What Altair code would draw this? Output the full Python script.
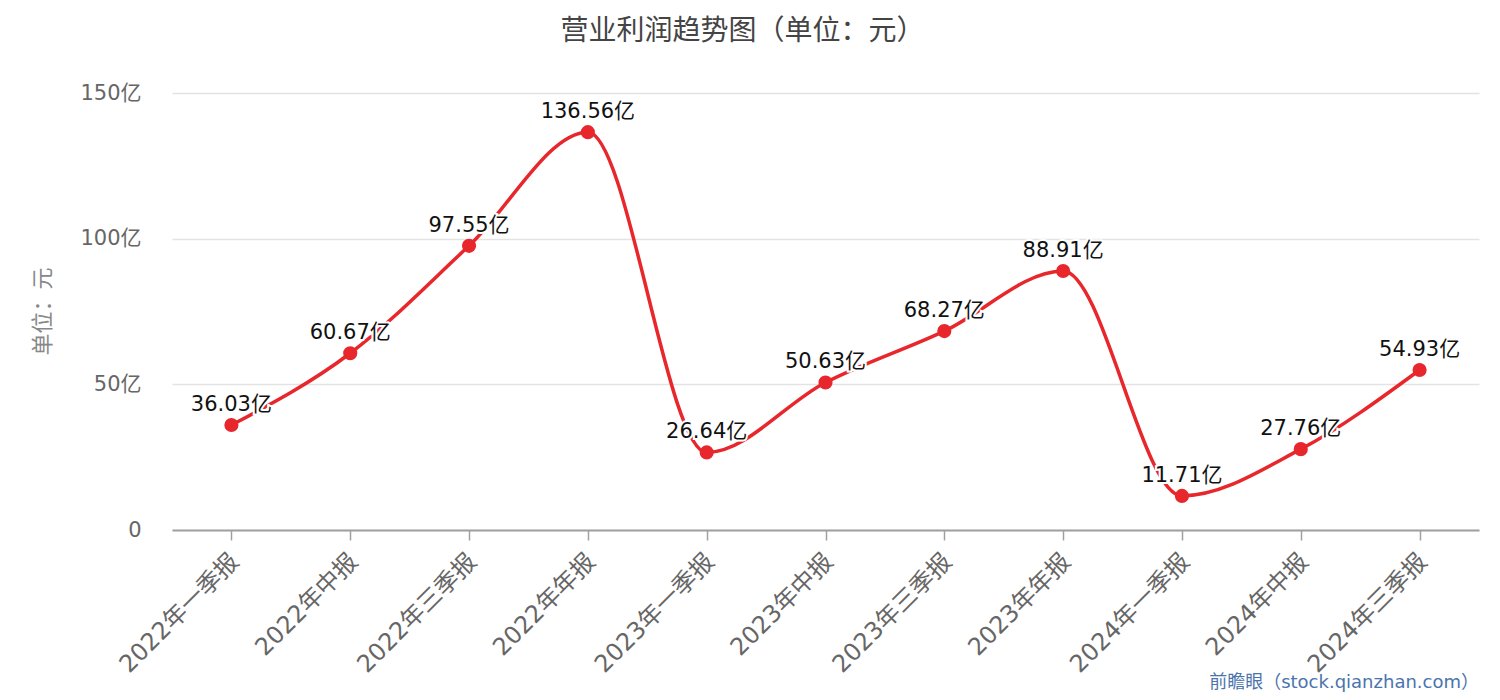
import altair as alt
import pandas as pd

categories = ["2022年一季报", "2022年中报", "2022年三季报", "2022年年报",
              "2023年一季报", "2023年中报", "2023年三季报", "2023年年报",
              "2024年一季报", "2024年中报", "2024年三季报"]
values = [36.03, 60.67, 97.55, 136.56, 26.64, 50.63, 68.27, 88.91, 11.71, 27.76, 54.93]
title_text = "营业利润趋势图（单位：元）"
y_title = "单位：元"
credit = "前瞻眼（stock.qianzhan.com）"

FONT = "DejaVu Sans, Noto Sans CJK SC"
RED = "#e8272d"

df = pd.DataFrame({"cat": categories, "val": values})
df["label"] = df["val"].map(lambda v: f"{v:.2f}亿")

x_enc = alt.X("cat:N", sort=categories,
              scale=alt.Scale(type="point", padding=0.5),
              axis=alt.Axis(title=None, labelAngle=-45, labelFontSize=24,
                            labelColor="#666666", labelFont=FONT,
                            domainColor="#a0a0a0", domainWidth=2,
                            tickColor="#a0a0a0", tickSize=10, tickWidth=1.5,
                            labelPadding=9, labelOffset=-5, grid=False, labelOverlap=False))
x_plain = alt.X("cat:N", sort=categories)
y_enc = alt.Y("val:Q", scale=alt.Scale(domain=[0, 150], nice=False),
              axis=alt.Axis(title=y_title, values=[0, 50, 100, 150],
                            labelExpr="datum.value == 0 ? '0' : datum.value + '亿'",
                            labelFontSize=21, labelColor="#666666", labelFont=FONT,
                            labelPadding=31, ticks=False, domain=False,
                            gridColor="#e3e3e3", gridWidth=1.5,
                            titleFontSize=22, titleColor="#888888", titleFont=FONT,
                            titleFontWeight="normal", titleX=-130, titleY=218,
                            titleAngle=-90, titleAlign="center", titleBaseline="middle"))

base = alt.Chart(df)
line = base.mark_line(color=RED, strokeWidth=3.5, interpolate="monotone").encode(x=x_enc, y=y_enc)
pts = base.mark_point(filled=True, color=RED, size=200, opacity=1).encode(x=x_plain, y="val:Q")
halo = base.mark_text(fontSize=21, font=FONT, baseline="bottom", dy=-10,
                      stroke="white", strokeWidth=4, color="white").encode(
    x=x_plain, y="val:Q", text="label:N")
labels = base.mark_text(fontSize=21, font=FONT, baseline="bottom", dy=-10,
                        color="#111111").encode(x=x_plain, y="val:Q", text="label:N")
credit_mark = alt.Chart(pd.DataFrame({"t": [credit]})).mark_text(
    fontSize=18, font=FONT, color="#4a74ad", align="right", baseline="middle").encode(
    x=alt.value(1307), y=alt.value(590), text="t:N")

chart = alt.layer(line, halo, labels, pts, credit_mark).properties(
    width=1307, height=437,
    background="white",
    title=alt.TitleParams(title_text, fontSize=28, font=FONT, color="#444444",
                          fontWeight="normal", anchor="middle", frame="group",
                          offset=36, dx=-83),
    autosize=alt.AutoSizeParams(type="none"),
    padding={"left": 164, "top": 85, "right": 13, "bottom": 162},
).configure_view(strokeWidth=0)

chart.save("out.html", embed_options={"renderer": "svg", "actions": False})
